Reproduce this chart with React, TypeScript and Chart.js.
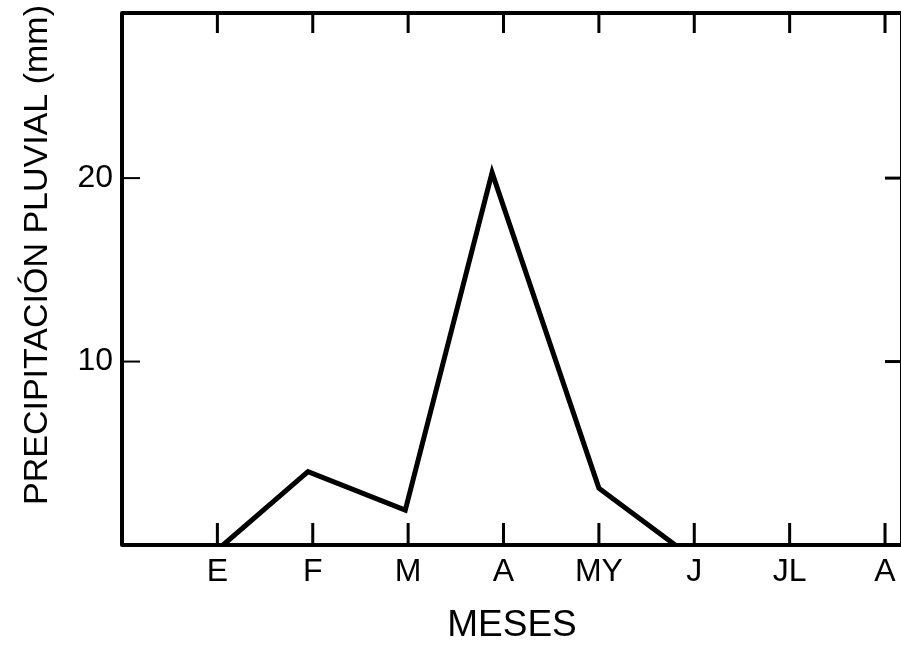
import React, { useEffect, useRef } from "react";
import { Chart, registerables } from "chart.js";

Chart.register(...registerables);

// Monthly rainfall
const MONTHS = ["E", "F", "M", "A", "MY", "J", "JL", "A"];
const POINT_X = [1.06, 1.95, 2.97, 3.88, 5.0, 5.8];
const RAIN_MM = [0, 4.0, 1.9, 20.3, 3.1, 0];
const Y_TICKS = [10, 20];

const X_MAX = 8.178;
const Y_MAX = 29;

const FONT = "'Liberation Sans', Arial, sans-serif";
const Y_TITLE = "PRECIPITACIÓN PLUVIAL (mm)";
const X_TITLE = "MESES";

// Frame around the plot with inward tick marks on all four sides,
// plus the rotated y-axis caption.
const framePlugin = {
  id: "frame",
  afterDraw(chart: any) {
    const { ctx, chartArea: a, scales } = chart;
    const x = scales.x;
    const y = scales.y;
    ctx.save();
    ctx.strokeStyle = "#000";
    ctx.lineCap = "butt";

    ctx.lineWidth = 3;
    MONTHS.forEach((_, i) => {
      const px = x.getPixelForValue(i + 1);
      ctx.beginPath();
      ctx.moveTo(px, a.bottom);
      ctx.lineTo(px, a.bottom - 22);
      ctx.moveTo(px, a.top);
      ctx.lineTo(px, a.top + 20);
      ctx.stroke();
    });

    Y_TICKS.forEach((v) => {
      const py = y.getPixelForValue(v);
      ctx.lineWidth = 2;
      ctx.beginPath();
      ctx.moveTo(a.left, py);
      ctx.lineTo(a.left + 18, py);
      ctx.stroke();
      ctx.lineWidth = 3;
      ctx.beginPath();
      ctx.moveTo(a.right, py);
      ctx.lineTo(a.right - 17, py);
      ctx.stroke();
    });

    ctx.lineWidth = 4;
    ctx.lineJoin = "round";
    ctx.strokeRect(a.left, a.top, a.right - a.left, a.bottom - a.top);

    ctx.translate(38, 255);
    ctx.rotate(-Math.PI / 2);
    ctx.fillStyle = "#000";
    ctx.font = `34px ${FONT}`;
    ctx.textAlign = "center";
    ctx.textBaseline = "middle";
    ctx.fillText(Y_TITLE, 0, 0);
    ctx.restore();
  },
};

export default function App() {
  const ref = useRef<HTMLCanvasElement | null>(null);

  useEffect(() => {
    if (!ref.current) return;
    const chart = new Chart(ref.current, {
      type: "line",
      data: {
        datasets: [
          {
            data: POINT_X.map((v, i) => ({ x: v, y: RAIN_MM[i] })),
            borderColor: "#000",
            borderWidth: 5,
            borderJoinStyle: "miter",
            pointRadius: 0,
            tension: 0,
            fill: false,
          },
        ],
      },
      options: {
        animation: false,
        responsive: false,
        devicePixelRatio: 1,
        layout: { padding: { top: 13, right: 3, left: 0, bottom: 0 } },
        plugins: {
          legend: { display: false },
          tooltip: { enabled: false },
        },
        scales: {
          x: {
            type: "linear",
            min: 0,
            max: X_MAX,
            grid: { display: false, drawTicks: false },
            border: { display: false },
            afterBuildTicks: (scale: any) => {
              scale.ticks = MONTHS.map((_, i) => ({ value: i + 1 }));
            },
            afterFit: (scale: any) => {
              scale.height = 105;
              scale.paddingLeft = 0;
              scale.paddingRight = 0;
            },
            ticks: {
              autoSkip: false,
              maxRotation: 0,
              padding: 8,
              color: "#000",
              font: { family: FONT, size: 32 },
              callback: (v: any) => MONTHS[Math.round(Number(v)) - 1] ?? "",
            },
            title: {
              display: true,
              text: X_TITLE,
              color: "#000",
              font: { family: FONT, size: 37 },
              padding: { top: 0, bottom: 2 },
            },
          },
          y: {
            type: "linear",
            min: 0,
            max: Y_MAX,
            grid: { display: false, drawTicks: false },
            border: { display: false },
            afterBuildTicks: (scale: any) => {
              scale.ticks = Y_TICKS.map((v) => ({ value: v }));
            },
            afterFit: (scale: any) => {
              scale.width = 122;
              scale.paddingTop = 0;
              scale.paddingBottom = 0;
            },
            ticks: {
              padding: 9,
              color: "#000",
              font: { family: FONT, size: 32 },
            },
          },
        },
      },
      plugins: [framePlugin],
    });
    return () => chart.destroy();
  }, []);

  return (
    <div
      style={{
        position: "fixed",
        left: 0,
        top: 0,
        width: 901,
        height: 650,
        overflow: "hidden",
        background: "#fff",
      }}
    >
      <canvas ref={ref} width={905} height={650} style={{ display: "block" }} />
    </div>
  );
}
